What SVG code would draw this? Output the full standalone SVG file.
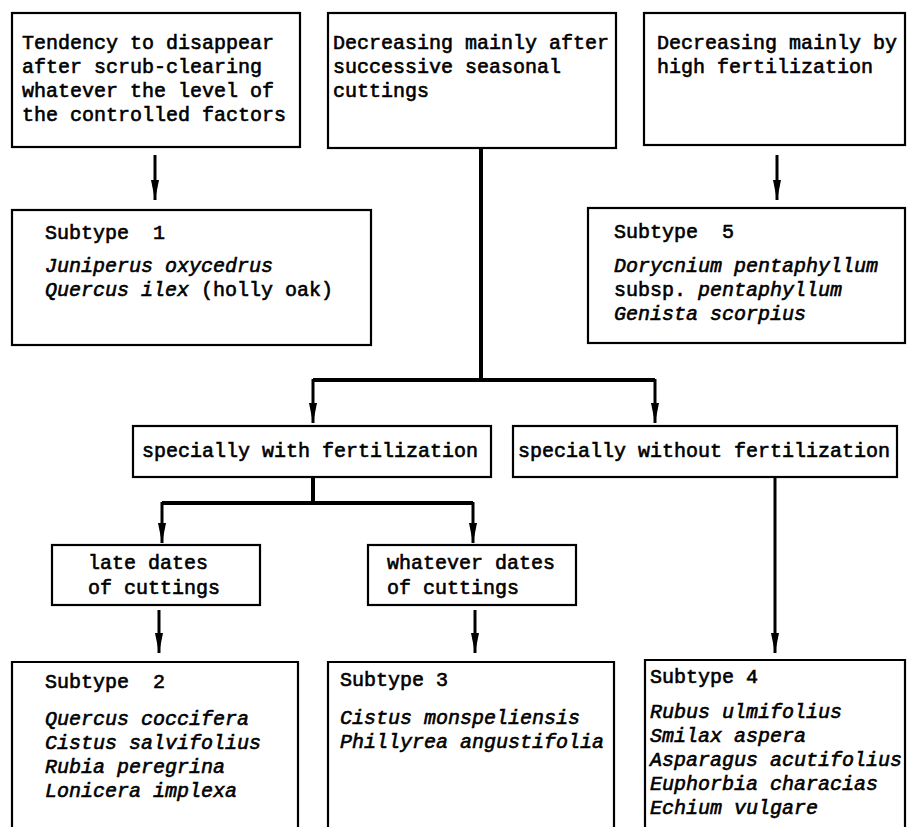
<svg xmlns="http://www.w3.org/2000/svg" width="907" height="827" viewBox="0 0 907 827">
  <style>
    .box { fill: #fff; stroke: #000; stroke-width: 2.2; }
    .open { fill: none; stroke: #000; stroke-width: 2.2; }
    .t { font-family: "Liberation Mono", "Courier New", monospace; font-size: 20px; fill: #000; stroke: #000; stroke-width: 0.6; }
    .i { font-style: italic; }
    .thick { fill: none; stroke: #000; stroke-width: 4; }
    .arr { fill: none; stroke: #000; stroke-width: 3; marker-end: url(#head); }
  </style>
  <defs>
    <!-- narrow filled arrowhead, tip at the line end -->
    <marker id="head" markerUnits="userSpaceOnUse" markerWidth="20" markerHeight="10" viewBox="0 0 20 10" refX="20" refY="5" orient="auto">
      <path d="M0,1 L0,9 L20,5 Z" fill="#000"/>
    </marker>
  </defs>
  <rect width="907" height="827" fill="#fff"/>

  <!-- connectors -->
  <g id="connectors">
    <line class="arr" x1="155" y1="155" x2="155" y2="200"/>
    <line class="arr" x1="777" y1="155" x2="777" y2="200"/>
    <path class="thick" d="M481,148 V380 M313,380 H655"/>
    <line class="arr" x1="313" y1="379" x2="313" y2="423"/>
    <line class="arr" x1="655" y1="379" x2="655" y2="423"/>
    <path class="thick" d="M313,477 V503 M162,503 H473"/>
    <line class="arr" x1="162" y1="502" x2="162" y2="543"/>
    <line class="arr" x1="473" y1="502" x2="473" y2="543"/>
    <line class="arr" x1="159" y1="610" x2="159" y2="653"/>
    <line class="arr" x1="475" y1="610" x2="475" y2="653"/>
    <line class="arr" x1="775" y1="477" x2="775" y2="653"/>
  </g>

  <!-- top row -->
  <g id="disappear">
    <rect class="box" x="12" y="13" width="288" height="134"/>
    <text class="t" x="22" y="49">Tendency to disappear</text>
    <text class="t" x="22" y="73">after scrub-clearing</text>
    <text class="t" x="22" y="97">whatever the level of</text>
    <text class="t" x="22" y="121">the controlled factors</text>
  </g>
  <g id="seasonal">
    <rect class="box" x="328" y="13" width="288" height="135"/>
    <text class="t" x="333" y="49">Decreasing mainly after</text>
    <text class="t" x="333" y="73">successive seasonal</text>
    <text class="t" x="333" y="97">cuttings</text>
  </g>
  <g id="fertilization">
    <rect class="box" x="644" y="13" width="261" height="132"/>
    <text class="t" x="657" y="49">Decreasing mainly by</text>
    <text class="t" x="657" y="73">high fertilization</text>
  </g>

  <!-- subtypes 1 and 5 -->
  <g id="subtype1">
    <rect class="box" x="12" y="210" width="359" height="135"/>
    <text class="t" x="45" y="239" xml:space="preserve">Subtype  1</text>
    <text class="t i" x="45" y="272">Juniperus oxycedrus</text>
    <text class="t" x="45" y="296"><tspan class="i">Quercus ilex</tspan> (holly oak)</text>
  </g>
  <g id="subtype5">
    <rect class="box" x="588" y="208" width="317" height="135"/>
    <text class="t" x="614" y="238" xml:space="preserve">Subtype  5</text>
    <text class="t i" x="614" y="272">Dorycnium pentaphyllum</text>
    <text class="t" x="614" y="296">subsp. <tspan class="i">pentaphyllum</tspan></text>
    <text class="t i" x="614" y="320">Genista scorpius</text>
  </g>

  <!-- middle row -->
  <g id="with-fert">
    <rect class="box" x="133" y="426" width="358" height="51"/>
    <text class="t" x="142" y="457">specially with fertilization</text>
  </g>
  <g id="without-fert">
    <rect class="box" x="513" y="426" width="384" height="51"/>
    <text class="t" x="518" y="457">specially without fertilization</text>
  </g>
  <g id="late-dates">
    <rect class="box" x="52" y="545" width="208" height="60"/>
    <text class="t" x="88" y="569">late dates</text>
    <text class="t" x="88" y="594">of cuttings</text>
  </g>
  <g id="whatever-dates">
    <rect class="box" x="368" y="545" width="208" height="60"/>
    <text class="t" x="387" y="569">whatever dates</text>
    <text class="t" x="387" y="594">of cuttings</text>
  </g>

  <!-- bottom row (boxes run off the lower edge) -->
  <g id="subtype2">
    <path class="open" d="M12,830 V662 H298 V830"/>
    <text class="t" x="45" y="688" xml:space="preserve">Subtype  2</text>
    <text class="t i" x="45" y="725">Quercus coccifera</text>
    <text class="t i" x="45" y="749">Cistus salvifolius</text>
    <text class="t i" x="45" y="773">Rubia peregrina</text>
    <text class="t i" x="45" y="797">Lonicera implexa</text>
  </g>
  <g id="subtype3">
    <path class="open" d="M328,830 V662 H614 V830"/>
    <text class="t" x="340" y="686">Subtype 3</text>
    <text class="t i" x="340" y="724">Cistus monspeliensis</text>
    <text class="t i" x="340" y="748">Phillyrea angustifolia</text>
  </g>
  <g id="subtype4">
    <path class="open" d="M645,830 V660 H905 V830"/>
    <text class="t" x="650" y="683">Subtype 4</text>
    <text class="t i" x="650" y="718">Rubus ulmifolius</text>
    <text class="t i" x="650" y="742">Smilax aspera</text>
    <text class="t i" x="650" y="766">Asparagus acutifolius</text>
    <text class="t i" x="650" y="790">Euphorbia characias</text>
    <text class="t i" x="650" y="814">Echium vulgare</text>
  </g>
</svg>
